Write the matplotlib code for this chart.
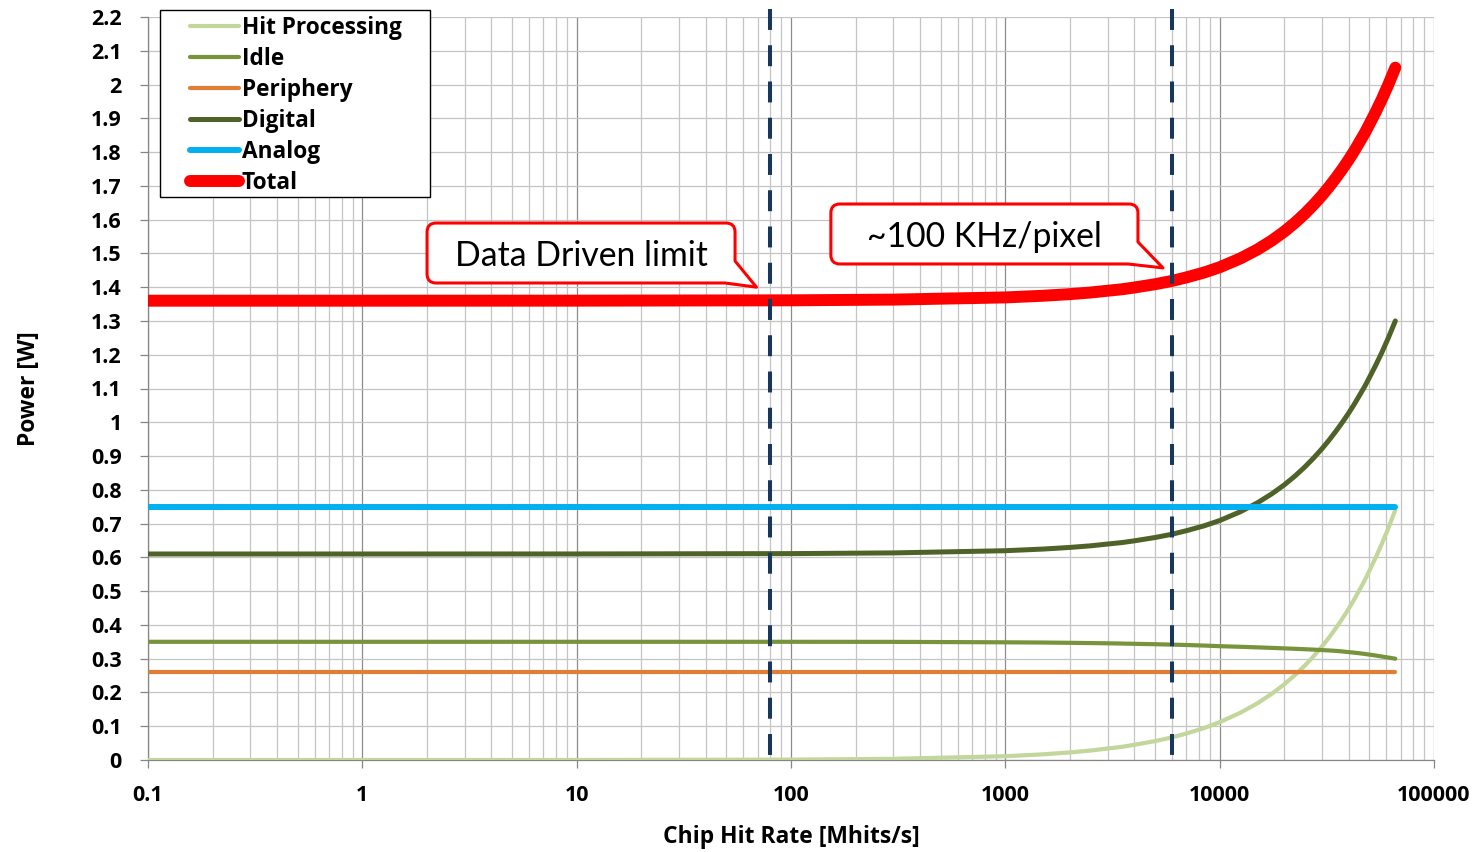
import numpy as np
import matplotlib
matplotlib.use("Agg")
import matplotlib.pyplot as plt
from matplotlib.path import Path
from matplotlib.patches import PathPatch, Rectangle
from matplotlib.ticker import FixedLocator, LogLocator, NullFormatter
from matplotlib.lines import Line2D
from matplotlib.legend_handler import HandlerLine2D

plt.rcParams['font.family'] = ['Open Sans', 'DejaVu Sans']

# chip hit rate [Mhits/s]
rate = [0.1, 1, 10, 100, 300, 1000, 1500, 2000, 2500, 3000, 3500, 4000, 5000, 6000,
        7000, 8500, 10000, 12500, 15000, 17500, 20000, 22500, 25000, 27500, 30000,
        32500, 35000, 37500, 40000, 42500, 45000, 47500, 50000, 53500, 57000, 61000,
        66000]
hit_processing = [0.0, 0.0, 0.0001, 0.0011, 0.0034, 0.0112, 0.0168, 0.0224, 0.028,
                  0.034, 0.039, 0.045, 0.056, 0.067, 0.0785, 0.095, 0.112, 0.14, 0.168,
                  0.196, 0.224, 0.252, 0.28, 0.308, 0.336, 0.364, 0.392, 0.42, 0.448,
                  0.476, 0.5045, 0.532, 0.561, 0.6, 0.639, 0.684, 0.74]
idle = [0.35, 0.35, 0.35, 0.35, 0.3498, 0.3485, 0.3478, 0.347, 0.3462, 0.3455, 0.3448,
        0.344, 0.3428, 0.3416, 0.3405, 0.3388, 0.337, 0.3352, 0.3335, 0.332, 0.3305,
        0.3292, 0.328, 0.3268, 0.3255, 0.3243, 0.323, 0.3213, 0.3195, 0.3178, 0.316,
        0.314, 0.312, 0.3093, 0.3065, 0.3035, 0.30]
periphery = [0.26] * len(rate)
digital = [0.61, 0.61, 0.6101, 0.6111, 0.6132, 0.6197, 0.6246, 0.6294, 0.6342, 0.6395,
           0.6438, 0.649, 0.6588, 0.6686, 0.679, 0.6938, 0.709, 0.7352, 0.7615, 0.788,
           0.8145, 0.8412, 0.868, 0.8948, 0.9215, 0.9483, 0.975, 1.0013, 1.0275, 1.0538,
           1.0805, 1.106, 1.133, 1.1693, 1.2055, 1.2475, 1.30]
analog = [0.75] * len(rate)
total = [1.36, 1.36, 1.3601, 1.3611, 1.3632, 1.3697, 1.3746, 1.3794, 1.3842, 1.3895,
         1.3938, 1.399, 1.4088, 1.4186, 1.429, 1.4438, 1.459, 1.4852, 1.5115, 1.538,
         1.5645, 1.5912, 1.618, 1.6448, 1.6715, 1.6983, 1.725, 1.7513, 1.7775, 1.8038,
         1.8305, 1.856, 1.883, 1.9193, 1.9555, 1.9975, 2.05]

limits = [80, 6000]
x_ticks = [0.1, 1, 10, 100, 1000, 10000, 100000]
x_labels = ['0.1', '1', '10', '100', '1000', '10000', '100000']
y_ticks = np.round(np.arange(0, 2.21, 0.1), 1)

series = [
    ('Hit Processing', hit_processing, '#C3D69B', 3.0),
    ('Idle', idle, '#77933C', 3.0),
    ('Periphery', periphery, '#E27D36', 3.0),
    ('Digital', digital, '#4F6228', 3.6),
    ('Analog', analog, '#00B0F0', 4.3),
    ('Total', total, '#FF0000', 8.6),
]


class OffsetLineHandler(HandlerLine2D):
    # Excel-style legend key: short line with blank space before it
    def create_artists(self, legend, orig_handle, xdescent, ydescent, width, height,
                       fontsize, trans):
        y = (height - ydescent) / 2
        line = Line2D([-xdescent + 0.33 * width, width - xdescent], [y, y])
        self.update_prop(line, orig_handle, legend)
        line.set_transform(trans)
        return [line]


fig = plt.figure(figsize=(14.81, 8.52), dpi=100)
ax = fig.add_axes([148 / 1481, 1 - 760 / 852, 1286 / 1481, 743 / 852])

handles = []
for i, (name, vals, col, lw) in enumerate(series):
    ax.plot(rate, vals, color=col, lw=lw, solid_capstyle='round', zorder=3 + i)
    handles.append(Line2D([], [], color=col, lw=lw, solid_capstyle='round'))

for xv in limits:
    ax.plot([xv, xv], [2.225, 0], color='#17375E', lw=2.9, dashes=(5.2, 3.8),
            zorder=12, clip_on=False)

ax.set_xscale('log')
ax.set_xlim(0.1, 100000)
ax.set_ylim(0, 2.2)

ax.xaxis.set_major_locator(FixedLocator(x_ticks))
ax.set_xticklabels(x_labels)
ax.xaxis.set_minor_locator(LogLocator(base=10, subs=np.arange(2, 10)))
ax.xaxis.set_minor_formatter(NullFormatter())
ax.yaxis.set_major_locator(FixedLocator(y_ticks))
ax.set_yticklabels([f'{v:g}' for v in y_ticks])

ax.grid(which='major', axis='x', color='#8C8C8C', lw=0.9)
ax.grid(which='minor', axis='x', color='#C4C4C4', lw=0.9)
ax.grid(which='major', axis='y', color='#C4C4C4', lw=0.9)
ax.set_axisbelow(True)

for s in ['top', 'right']:
    ax.spines[s].set_visible(False)
for s in ['left', 'bottom']:
    ax.spines[s].set_color('#868686')
    ax.spines[s].set_linewidth(0.9)

ax.tick_params(axis='both', which='major', direction='out', length=5.8, width=0.9,
               color='#868686', labelsize=15.5)
ax.tick_params(axis='x', which='major', pad=12)
ax.tick_params(axis='y', which='major', pad=13)
ax.tick_params(axis='x', which='minor', length=0)
for lab in ax.get_xticklabels() + ax.get_yticklabels():
    lab.set_fontweight('bold')

ax.set_xlabel('Chip Hit Rate [Mhits/s]', fontsize=16.5, fontweight='bold', labelpad=14)
ax.set_ylabel('Power [W]', fontsize=16.5, fontweight='bold', labelpad=36)

# legend box drawn by hand (Excel leaves extra room on the right)
ax.add_patch(Rectangle((0.0093, 0.7577), 0.21, 0.2517, transform=ax.transAxes,
                       facecolor='white', edgecolor='black', lw=1.0, clip_on=False,
                       zorder=19))
leg = ax.legend(handles, [s[0] for s in series], loc='upper left',
                bbox_to_anchor=(0.0093, 1.0094), borderaxespad=0, frameon=False,
                handlelength=3.23, handletextpad=0.12, labelspacing=0.31,
                borderpad=0.27, prop={'size': 16.3, 'weight': 'bold'},
                handler_map={Line2D: OffsetLineHandler()})
leg.set_zorder(20)


def callout(ax, text, box, tip, radius=9, tail_w=10, tail_h=22):
    pos = ax.get_position()
    w_px = pos.width * fig.get_figwidth() * fig.dpi
    h_px = pos.height * fig.get_figheight() * fig.dpi
    rx, ry = radius / w_px, radius / h_px
    tw, th = tail_w / w_px, tail_h / h_px
    x0, y0, x1, y1 = box
    tx, ty = ax.transAxes.inverted().transform(ax.transData.transform(tip))
    verts = [
        (x0 + rx, y0), (x1 - tw, y0), (tx, ty), (x1, y0 + th),
        (x1, y1 - ry), (x1, y1), (x1 - rx, y1),
        (x0 + rx, y1), (x0, y1), (x0, y1 - ry),
        (x0, y0 + ry), (x0, y0), (x0 + rx, y0),
        (x0 + rx, y0),
    ]
    codes = [Path.MOVETO, Path.LINETO, Path.LINETO, Path.LINETO,
             Path.LINETO, Path.CURVE3, Path.CURVE3,
             Path.LINETO, Path.CURVE3, Path.CURVE3,
             Path.LINETO, Path.CURVE3, Path.CURVE3,
             Path.CLOSEPOLY]
    patch = PathPatch(Path(verts, codes), transform=ax.transAxes, facecolor='white',
                      edgecolor='#FF0000', lw=2.2, joinstyle='round', zorder=15,
                      clip_on=False)
    ax.add_patch(patch)
    ax.text((x0 + x1) / 2, (y0 + y1) / 2, text, transform=ax.transAxes, ha='center',
            va='center_baseline', fontsize=24.3, family=['Lato', 'DejaVu Sans'],
            zorder=16)


callout(ax, 'Data Driven limit', (0.217, 0.642, 0.4565, 0.7227), (69, 1.40))
callout(ax, '~100 KHz/pixel', (0.531, 0.6676, 0.7698, 0.7483), (5440, 1.457))

fig.savefig('out.png', dpi=100)
